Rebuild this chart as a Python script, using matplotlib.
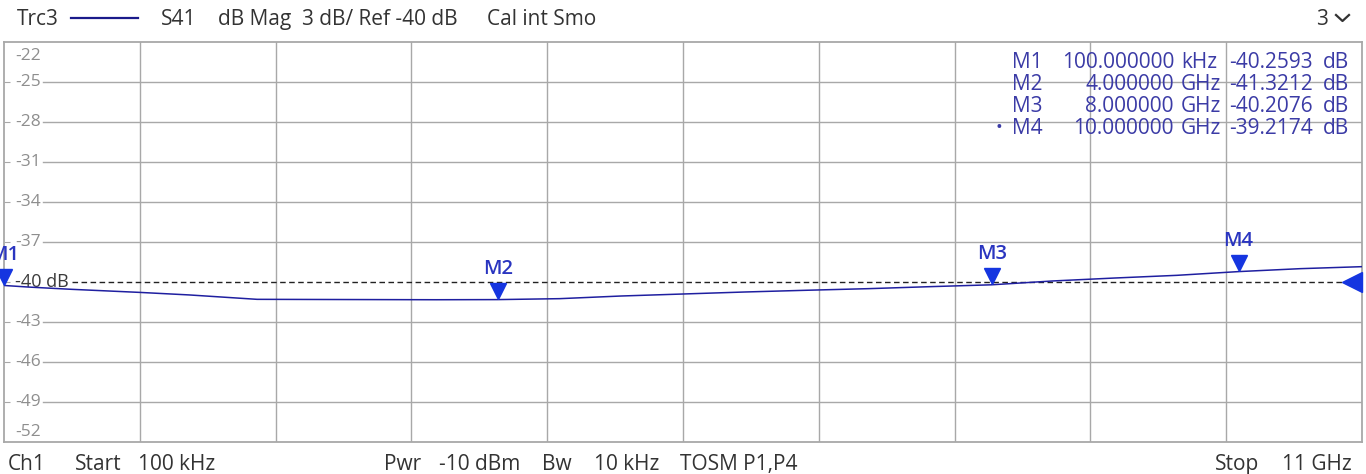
import numpy as np
import matplotlib
matplotlib.use("Agg")
import matplotlib.pyplot as plt
import matplotlib.transforms as mtransforms

plt.rcParams['font.family'] = ['Open Sans', 'DejaVu Sans']

# ---------------- data ----------------
start_ghz = 0.0001
stop_ghz = 11.0
ref_db = -40.0
y_top = -22.0
y_bottom = -52.0
y_tick_values = [-22, -25, -28, -31, -34, -37, -40, -43, -46, -49, -52]

trace_freq_ghz = [0.0001, 0.2, 0.55, 1.1, 1.5, 1.8, 2.05, 2.5, 3.0, 3.5, 4.0, 4.5,
                  5.0, 5.5, 6.0, 6.5, 7.0, 7.5, 8.0, 8.5, 9.0, 9.5, 10.0, 10.5, 11.0]
trace_db = [-40.26, -40.38, -40.55, -40.78, -40.97, -41.15, -41.30, -41.31, -41.32,
            -41.33, -41.32, -41.25, -41.05, -40.90, -40.75, -40.62, -40.50, -40.35,
            -40.21, -39.92, -39.70, -39.50, -39.22, -39.00, -38.85]

marker_names = ["M1", "M2", "M3", "M4"]
marker_freq_ghz = [0.0001, 4.0, 8.0, 10.0]
marker_db = [-40.2593, -41.3212, -40.2076, -39.2174]
marker_freq_text = ["100.000000", "4.000000", "8.000000", "10.000000"]
marker_freq_unit = ["kHz", "GHz", "GHz", "GHz"]
marker_val_text = ["-40.2593", "-41.3212", "-40.2076", "-39.2174"]

# ---------------- figure ----------------
W, H = 1366, 474
fig = plt.figure(figsize=(W / 100, H / 100), dpi=100)
fig.patch.set_facecolor("white")

def fx(x):
    return x / W

def fy(y):
    return 1 - y / H

ax_l, ax_r, ax_t, ax_b = 4, 1362, 42, 442
ax = fig.add_axes([fx(ax_l), fy(ax_b), (ax_r - ax_l) / W, (ax_b - ax_t) / H])
ax.set_xlim(start_ghz, stop_ghz)
ax.set_ylim(y_bottom, y_top)
for s in ax.spines.values():
    s.set_color("#a8a8a8")
    s.set_linewidth(1.3)

grid_c = "#a8a8a8"
# vertical grid
xgrid = np.linspace(start_ghz, stop_ghz, 11)[1:-1]
for xv in xgrid:
    ax.axvline(xv, color=grid_c, lw=1.0, zorder=1)

ax.set_xticks([])
inner = [v for v in y_tick_values if v not in (y_top, y_bottom)]
ax.set_yticks(inner)
ax.tick_params(axis='y', direction='in', length=4, color=grid_c, labelleft=False)

gx0 = (43 - ax_l) / (ax_r - ax_l)
rx0 = (72 - ax_l) / (ax_r - ax_l)
blend = mtransforms.blended_transform_factory(ax.transAxes, ax.transData)
px_per_db = (ax_b - ax_t) / (y_top - y_bottom)
for v in y_tick_values:
    if v == ref_db:
        ax.axhline(v, xmin=rx0, color="#222222", lw=1.0, ls=(0, (4, 2.5)), zorder=3)
        ax.text((15 - ax_l) / (ax_r - ax_l), v, "-40 dB", transform=blend,
                fontsize=13, color="#3a3a3a", va='center', ha='left', zorder=4)
        continue
    yy = v
    if v == y_top:
        yy = v - 14 / px_per_db
    elif v == y_bottom:
        yy = v + 10 / px_per_db
    else:
        ax.axhline(v, xmin=gx0, color=grid_c, lw=1.0, zorder=1)
    ax.text((15 - ax_l) / (ax_r - ax_l), yy, f"{v}", transform=blend,
            fontsize=12.5, color="#8e8e8e", va='center', ha='left')

# trace
ax.plot(trace_freq_ghz, trace_db, color="#1f1fa0", lw=1.1, zorder=5)

# markers
mk_c = "#1535e0"
ms = 12
for name, f, d in zip(marker_names, marker_freq_ghz, marker_db):
    tr = mtransforms.offset_copy(ax.transData, fig=fig, x=0, y=ms / 2, units='points')
    ax.plot([f], [d], marker='v', ms=ms, color=mk_c, mec=mk_c, transform=tr,
            clip_on=False, zorder=6)
    tr2 = mtransforms.offset_copy(ax.transData, fig=fig, x=0, y=ms + 10, units='points')
    ax.text(f, d, name, transform=tr2, ha='center', va='center', fontsize=14.5,
            fontweight='semibold', color="#2a35c0", clip_on=False, zorder=6)

# reference arrow at right edge
tr3 = mtransforms.offset_copy(ax.transData, fig=fig, x=-7.5, y=0, units='points')
ax.plot([stop_ghz], [ref_db], marker='<', ms=15, color=mk_c, mec=mk_c,
        transform=tr3, clip_on=False, zorder=6)

# ---------------- marker table ----------------
tab_c = "#3b3ba6"
tfs = 15
row_y = [68, 90, 112, 134]
for i in range(4):
    yb = fy(row_y[i])
    fig.text(fx(1043), yb, marker_names[i], ha='right', va='baseline', fontsize=tfs, color=tab_c)
    fig.text(fx(1174), yb, marker_freq_text[i], ha='right', va='baseline', fontsize=tfs, color=tab_c)
    fig.text(fx(1181), yb, marker_freq_unit[i], ha='left', va='baseline', fontsize=tfs, color=tab_c)
    fig.text(fx(1313), yb, marker_val_text[i], ha='right', va='baseline', fontsize=tfs, color=tab_c)
    fig.text(fx(1323), yb, "dB", ha='left', va='baseline', fontsize=tfs, color=tab_c)
fig.text(fx(999), fy(row_y[3] - 6), "•", ha='center', va='center', fontsize=13, color=tab_c)

# ---------------- header ----------------
hc = "#333333"
hfs = 15
hb = fy(25)
fig.text(fx(17), hb, "Trc3", fontsize=hfs, color=hc, va='baseline')
fig.add_artist(plt.Line2D([fx(71), fx(138)], [fy(18), fy(18)], color="#1a1a8a", lw=1.6))
fig.text(fx(161), hb, "S41", fontsize=hfs, color=hc, va='baseline')
fig.text(fx(218), hb, "dB Mag", fontsize=hfs, color=hc, va='baseline')
fig.text(fx(302), hb, "3 dB/ Ref -40 dB", fontsize=hfs, color=hc, va='baseline')
fig.text(fx(487), hb, "Cal int Smo", fontsize=hfs, color=hc, va='baseline')
fig.text(fx(1316), hb, "3", fontsize=hfs, color=hc, va='baseline')
fig.add_artist(plt.Line2D([fx(1336), fx(1342.5), fx(1349)], [fy(15), fy(21), fy(15)],
                          color=hc, lw=1.6))

# ---------------- footer ----------------
fb = fy(470)
fig.text(fx(8), fb, "Ch1", fontsize=hfs, color=hc, va='baseline')
fig.text(fx(75), fb, "Start", fontsize=hfs, color=hc, va='baseline')
fig.text(fx(138), fb, "100 kHz", fontsize=hfs, color=hc, va='baseline')
fig.text(fx(384), fb, "Pwr", fontsize=hfs, color=hc, va='baseline')
fig.text(fx(439), fb, "-10 dBm", fontsize=hfs, color=hc, va='baseline')
fig.text(fx(542), fb, "Bw", fontsize=hfs, color=hc, va='baseline')
fig.text(fx(594), fb, "10 kHz", fontsize=hfs, color=hc, va='baseline')
fig.text(fx(680), fb, "TOSM P1,P4", fontsize=hfs, color=hc, va='baseline')
fig.text(fx(1215), fb, "Stop", fontsize=hfs, color=hc, va='baseline')
fig.text(fx(1282), fb, "11 GHz", fontsize=hfs, color=hc, va='baseline')

fig.savefig("out.png", dpi=100, facecolor="white")
